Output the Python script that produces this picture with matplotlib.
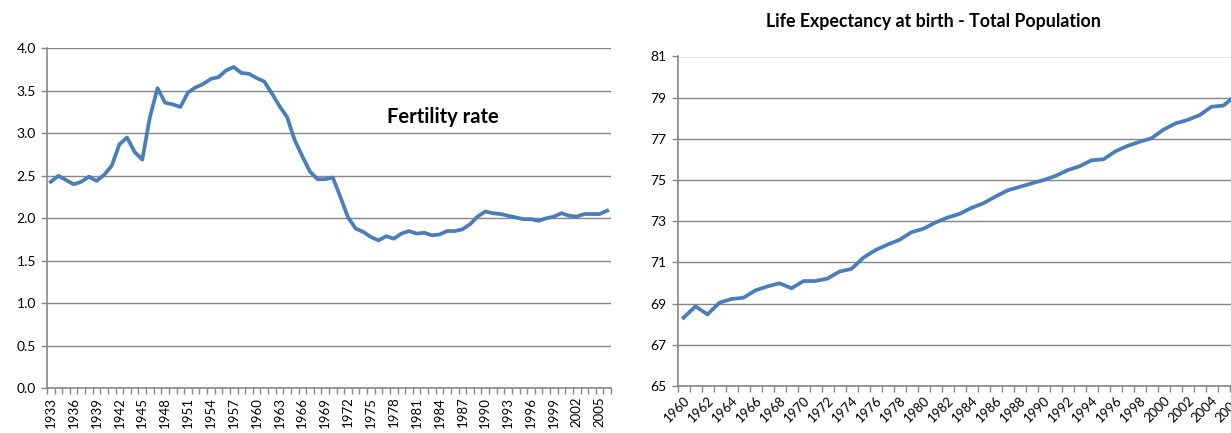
import matplotlib
matplotlib.use("Agg")
import matplotlib.pyplot as plt
import numpy as np

plt.rcParams['font.family'] = ['Lato', 'DejaVu Sans']

# ---- Data ----
fert_years = list(range(1933, 2007))
fert_values = [2.43, 2.50, 2.45, 2.40, 2.43, 2.49, 2.44, 2.51, 2.62, 2.87,
               2.95, 2.78, 2.69, 3.19, 3.53, 3.36, 3.34, 3.31, 3.48, 3.54,
               3.58, 3.64, 3.66, 3.74, 3.78, 3.71, 3.70, 3.65, 3.61, 3.47,
               3.32, 3.19, 2.92, 2.73, 2.55, 2.46, 2.46, 2.48, 2.25, 2.01,
               1.88, 1.84, 1.78, 1.74, 1.79, 1.76, 1.82, 1.85, 1.82, 1.83,
               1.80, 1.81, 1.85, 1.85, 1.87, 1.93, 2.02, 2.08, 2.06, 2.05,
               2.03, 2.01, 1.99, 1.99, 1.97, 2.00, 2.02, 2.06, 2.03, 2.02,
               2.05, 2.05, 2.05, 2.09]
fert_label = "Fertility rate"

life_years = list(range(1960, 2007))
life_values = [68.32, 68.87, 68.48, 69.05, 69.23, 69.29, 69.65, 69.84, 69.99, 69.75,
               70.10, 70.10, 70.22, 70.56, 70.69, 71.24, 71.60, 71.87, 72.10, 72.47,
               72.64, 72.94, 73.18, 73.36, 73.65, 73.88, 74.20, 74.50, 74.67, 74.84,
               75.00, 75.20, 75.48, 75.67, 75.96, 76.01, 76.40, 76.66, 76.86, 77.03,
               77.45, 77.75, 77.92, 78.15, 78.56, 78.62, 79.10]
life_title = "Life Expectancy at birth - Total Population"

fert_yticks = [0.0, 0.5, 1.0, 1.5, 2.0, 2.5, 3.0, 3.5, 4.0]
life_yticks = [65, 67, 69, 71, 73, 75, 77, 79, 81]

LINE = '#4A7EBB'
GRID = '#868686'
W, H = 1231, 433

fig = plt.figure(figsize=(W / 100, H / 100), dpi=100)


def px_axes(left, top, right, bottom):
    return fig.add_axes([left / W, (H - bottom) / H, (right - left) / W, (bottom - top) / H])


def style(ax, n, yticks, yfmt):
    for s in ['top', 'right']:
        ax.spines[s].set_visible(False)
    for s in ['left', 'bottom']:
        ax.spines[s].set_color(GRID)
        ax.spines[s].set_linewidth(1.2)
    ax.set_xlim(-0.5, n - 0.5)
    ax.set_ylim(yticks[0], yticks[-1])
    ax.set_yticks(yticks)
    ax.set_yticklabels([yfmt(v) for v in yticks])
    ax.yaxis.grid(True, color=GRID, linewidth=1.0)
    ax.set_axisbelow(True)
    ax.tick_params(axis='y', length=4, color=GRID, width=1, labelsize=10, pad=4,
                   labelcolor='black')
    ax.set_xticks(np.arange(-0.5, n, 1.0), minor=True)
    ax.tick_params(axis='x', which='minor', length=4, color=GRID, width=1)
    ax.tick_params(axis='x', which='major', length=0, labelsize=9.5, pad=6)


# ---- Left chart: fertility ----
ax1 = px_axes(47, 48.3, 611, 388.3)
x1 = np.arange(len(fert_years))
ax1.plot(x1, fert_values, color=LINE, linewidth=2.7, solid_joinstyle='round')
style(ax1, len(fert_years), fert_yticks, lambda v: f"{v:.1f}")
maj1 = x1[::3]
ax1.set_xticks(maj1)
ax1.set_xticklabels([str(fert_years[i]) for i in maj1], rotation=90, ha='center', va='top')
fig.text(443 / W, (H - 117) / H, fert_label, ha='center', va='center',
         fontsize=14.5, fontweight='bold')

# ---- Right chart: life expectancy ----
ax2 = px_axes(677.5, 56.5, 1241.5, 386.1)
x2 = np.arange(len(life_years))
ax2.plot(x2, life_values, color=LINE, linewidth=2.7, solid_joinstyle='round')
style(ax2, len(life_years), life_yticks, lambda v: f"{v:d}")
maj2 = x2[::2]
ax2.set_xticks(maj2)
ax2.set_xticklabels([str(life_years[i]) for i in maj2], rotation=45, ha='right', va='top',
                    rotation_mode='anchor')
fig.text(933 / W, (H - 22) / H, life_title, ha='center', va='center',
         fontsize=12.8, fontweight='bold')

fig.savefig('out.png', dpi=100)
